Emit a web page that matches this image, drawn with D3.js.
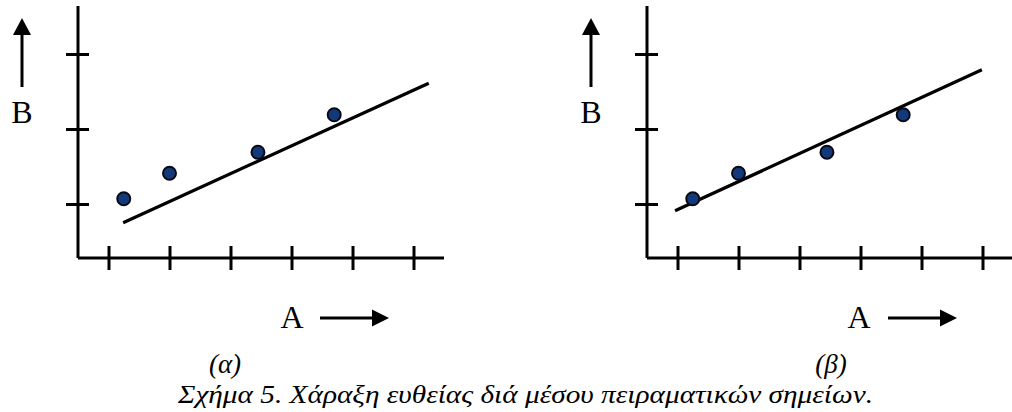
<!DOCTYPE html>
<html>

<head>
  <meta charset="utf-8">
  <title>Σχήμα 5</title>
  <script src="https://cdn.jsdelivr.net/npm/d3@7/dist/d3.min.js"></script>
  <style>
    body { margin: 0; background: #fff; }
    svg text { font-family: "Times New Roman", "Liberation Serif", Times, serif; }
  </style>
</head>

<body>
  <svg width="1012" height="412" id="mainsvg"></svg>
  <script>
    const pointsA = [1.25, 2.0, 3.45, 4.7];
    const pointsB = [1.07, 1.41, 1.69, 2.19];
    const xTicks = [1, 2, 3, 4, 5, 6];
    const yTicks = [1, 2, 3];
    // fitted lines: (a) bad fit, (b) good fit
    const fitAlphaA = [1.24, 6.25];
    const fitAlphaB = [0.75, 2.61];
    const fitBetaA = [0.96, 5.99];
    const fitBetaB = [0.91, 2.79];
    const panelLabels = ['(α)', '(β)'];
    const caption = 'Σχήμα 5. Χάραξη ευθείας διά μέσου πειραματικών σημείων.';

    const svg = d3.select('svg');

    const innerWidth = 366;
    const innerHeight = 252;

    const x = d3.scaleLinear().domain([0.5, 6.5]).range([0, innerWidth]);
    const y = d3.scaleLinear().domain([0.28, 3.64]).range([innerHeight, 0]);

    const panels = [
      {left: 78, top: 6, fitA: fitAlphaA, fitB: fitAlphaB, label: panelLabels[0], labelX: 147, aX: 214, arrowX: 242},
      {left: 647, top: 6, fitA: fitBetaA, fitB: fitBetaB, label: panelLabels[1], labelX: 184, aX: 212, arrowX: 241}
    ];

    const points = pointsA.map((a, i) => ({a: a, b: pointsB[i]}));

    panels.forEach(p => {
        const g = svg.append('g').attr('transform', `translate(${p.left}, ${p.top})`);

        // axes, ticks crossing the axis line
        const xAxis = g.append('g')
        .attr('transform', `translate(0, ${innerHeight})`)
        .call(d3.axisBottom(x).tickValues(xTicks).tickSize(12).tickFormat(''));
        const yAxis = g.append('g')
        .call(d3.axisLeft(y).tickValues(yTicks).tickSize(12).tickFormat(''));

        xAxis.select('.domain').attr('d', `M0,0H${innerWidth}`);
        yAxis.select('.domain').attr('d', `M0,0V${innerHeight}`);
        xAxis.selectAll('.tick line').attr('y1', -12).attr('y2', 12);
        yAxis.selectAll('.tick line').attr('x1', -12).attr('x2', 11);
        g.selectAll('.domain, .tick line')
        .attr('stroke', '#000').attr('stroke-width', 3);

        // fitted line
        g.append('line')
        .attr('x1', x(p.fitA[0])).attr('y1', y(p.fitB[0]))
        .attr('x2', x(p.fitA[1])).attr('y2', y(p.fitB[1]))
        .attr('stroke', '#000').attr('stroke-width', 3.2);

        // experimental points
        g.selectAll('.pt').data(points).join('circle')
        .attr('class', 'pt')
        .attr('cx', d => x(d.a))
        .attr('cy', d => y(d.b))
        .attr('r', 6.5)
        .attr('fill', '#123a7a')
        .attr('stroke', '#0a0a14')
        .attr('stroke-width', 2);

        // B label with up arrow
        const bx = -56;
        g.append('line')
        .attr('x1', bx).attr('y1', 81).attr('x2', bx).attr('y2', 25)
        .attr('stroke', '#000').attr('stroke-width', 3);
        g.append('path')
        .attr('d', `M${bx},12L${bx - 9},29L${bx + 9},29Z`)
        .attr('fill', '#000');
        g.append('text')
        .attr('x', bx).attr('y', 117)
        .attr('text-anchor', 'middle')
        .style('font-size', '32px')
        .text('B');

        // A label with right arrow
        const ay = 312;
        g.append('text')
        .attr('x', p.aX).attr('y', 322)
        .attr('text-anchor', 'middle')
        .style('font-size', '32px')
        .text('A');
        g.append('line')
        .attr('x1', p.arrowX).attr('y1', ay).attr('x2', p.arrowX + 54).attr('y2', ay)
        .attr('stroke', '#000').attr('stroke-width', 3);
        g.append('path')
        .attr('d', `M${p.arrowX + 69},${ay}L${p.arrowX + 52},${ay - 8.5}L${p.arrowX + 52},${ay + 8.5}Z`)
        .attr('fill', '#000');

        // panel label
        g.append('text')
        .attr('x', p.labelX).attr('y', 367)
        .attr('text-anchor', 'middle')
        .style('font-size', '27px')
        .style('font-style', 'italic')
        .text(p.label);
    });

    svg.append('text')
    .attr('x', 178).attr('y', 403)
    .style('font-size', '26px')
    .style('font-style', 'italic')
    .attr('textLength', 695)
    .attr('lengthAdjust', 'spacingAndGlyphs')
    .text(caption);
  </script>
</body>

</html>
